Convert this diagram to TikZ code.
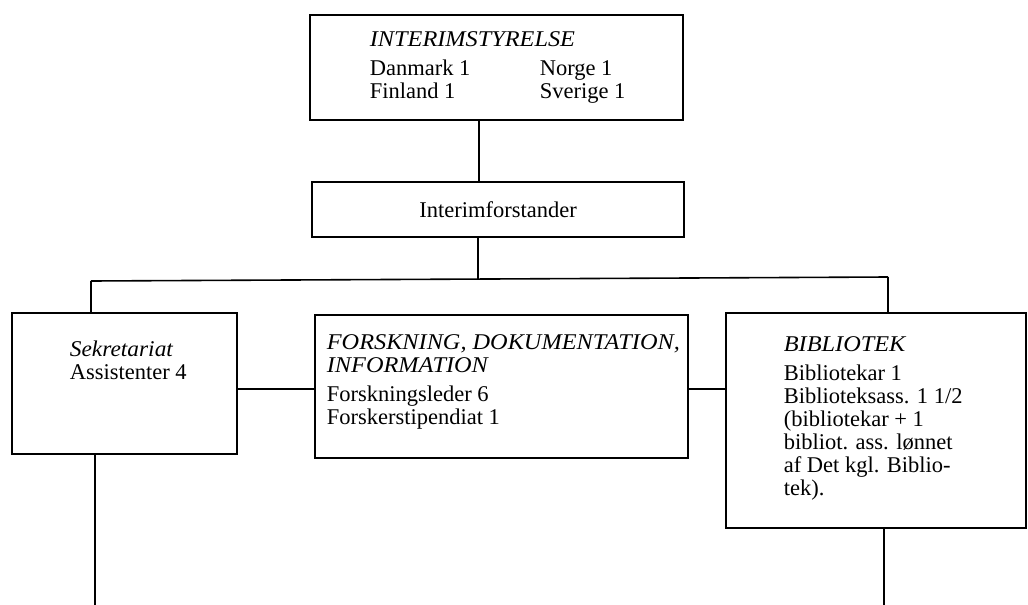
\documentclass[tikz,border=0pt]{standalone}
\usepackage{fontspec}
\setmainfont{Liberation Serif}
\begin{document}
\begin{tikzpicture}[x=1pt,y=-1pt,
  line width=1.6pt,
  box/.style={draw, inner sep=0pt, fill=white},
  txt/.style={anchor=base west, inner sep=0pt, font=\fontsize{22.5}{23}\selectfont},
  itx/.style={txt, font=\fontsize{22.5}{23}\selectfont\itshape, xscale=1.08},
  itl/.style={txt, font=\fontsize{22.5}{23}\selectfont\itshape, xscale=1.04}]
\useasboundingbox[fill=white] (0,0) rectangle (1028,605);

% boxes
\node[box, minimum width=373pt, minimum height=105pt] (styr) at (496.5,67.5) {};
\node[box, minimum width=372pt, minimum height=55pt,
      font=\fontsize{22.5}{23}\selectfont] (forst) at (498,209.5) {Interimforstander};
\node[box, minimum width=225pt, minimum height=141pt] (sekr) at (124.5,383.5) {};
\node[box, minimum width=373pt, minimum height=143pt] (fdi) at (501.5,386.5) {};
\node[box, minimum width=300pt, minimum height=215pt] (bibl) at (876,420.5) {};

% junction points of the distribution line
\coordinate (c1) at (479,0);
\coordinate (bl0) at (91,281);
\coordinate (bj) at (478,279);
\coordinate (br0) at (888,277);
\coordinate (mid) at (0,389);
\coordinate (bl) at (95,605);
\coordinate (br) at (884,605);

% connectors
\draw (styr.south -| c1) -- (forst.north -| c1);
\draw (forst.south -| bj) -- (bj);
\draw (bl0) -- (br0);
\draw (bl0) -- (sekr.north -| bl0);
\draw (br0) -- (bibl.north -| br0);
\draw (sekr.east |- mid) -- (fdi.west |- mid);
\draw (fdi.east |- mid) -- (bibl.west |- mid);
\draw (sekr.south -| bl) -- (bl);
\draw (bibl.south -| br) -- (br);

% texts of the board
\node[itx] (s0) at (369,46) {INTERIMSTYRELSE};
\node[txt] (s1) at (369,75) {Danmark 1};
\node[txt] (s2) at (539,75) {Norge 1};
\node[txt] (s3) at (369,98) {Finland 1};
\node[txt] (s4) at (539,98) {Sverige 1};

% secretariat
\node[itl] (k0) at (69,356) {Sekretariat};
\node[txt] (k1) at (69,379) {Assistenter 4};

% research
\node[itx] (f0) at (326,349) {FORSKNING, DOKUMENTATION,};
\node[itx] (f1) at (326,372) {INFORMATION};
\node[txt] (f2) at (326,401) {Forskningsleder 6};
\node[txt] (f3) at (326,424) {Forskerstipendiat 1};

% library
\node[itx] (b0) at (783,351) {BIBLIOTEK};
\node[txt] (b1) at (783,380) {Bibliotekar 1};
\node[txt] (b2) at (783,403) {Biblioteksass. 1 1/2};
\node[txt] (b3) at (783,426) {(bibliotekar + 1};
\node[txt] (b4) at (783,449) {bibliot. ass. lønnet};
\node[txt] (b5) at (783,472) {af Det kgl. Biblio-};
\node[txt] (b6) at (783,495) {tek).};
\end{tikzpicture}
\end{document}
